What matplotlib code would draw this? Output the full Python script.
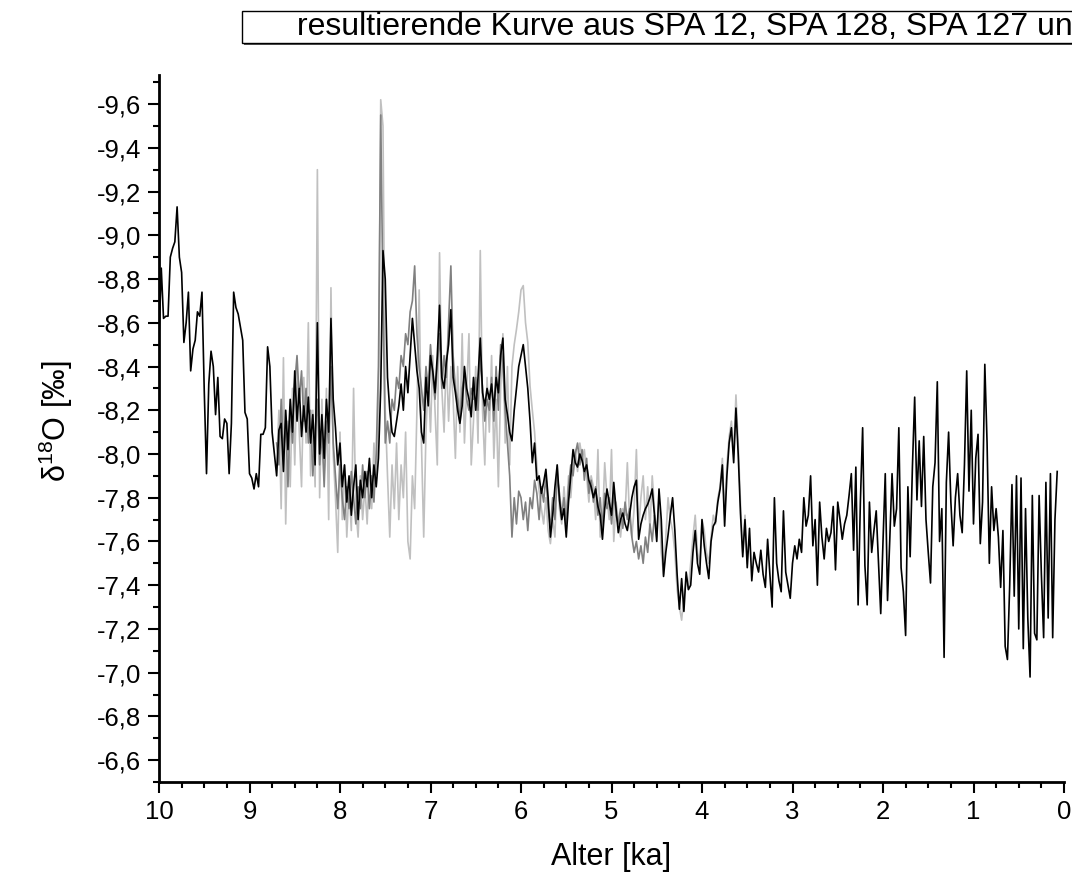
import numpy as np
import matplotlib
matplotlib.use("Agg")
import matplotlib.pyplot as plt
from matplotlib.patches import Rectangle
from matplotlib.ticker import MultipleLocator, FuncFormatter

plt.rcParams["font.family"] = ["Liberation Sans", "DejaVu Sans"]
plt.rcParams["mathtext.default"] = "regular"
plt.rcParams["axes.unicode_minus"] = False

AGE_STEP = 0.025

# resulting curve (black), 10.0 ka -> 0.075 ka
black_start = 10.0
black_d18o = [
    -8.54, -8.85, -8.62, -8.63, -8.63, -8.90, -8.94, -8.97, -9.13, -8.90, -8.83, -8.51, -8.60, -8.74, -8.38, -8.48, -8.52, -8.65, -8.63, -8.74,
    -8.29, -7.91, -8.32, -8.47, -8.40, -8.18, -8.35, -8.08, -8.07, -8.16, -8.14, -7.91, -8.14, -8.74, -8.67, -8.64, -8.58, -8.52, -8.19, -8.16,
    -7.91, -7.89, -7.84, -7.91, -7.85, -8.09, -8.09, -8.12, -8.49, -8.40, -8.10, -8.00, -7.90, -8.11, -8.14, -7.92, -8.20, -8.02, -8.25, -8.10,
    -8.38, -8.15, -8.30, -8.08, -8.22, -8.10, -8.26, -8.05, -8.18, -7.95, -8.60, -8.00, -8.18, -7.98, -8.25, -8.10, -8.62, -8.25, -8.12, -7.95,
    -8.05, -7.85, -7.95, -7.78, -7.90, -7.72, -7.85, -7.95, -7.70, -7.88, -7.80, -7.92, -7.85, -7.98, -7.80, -7.95, -7.85, -7.98, -8.30, -8.93,
    -8.80, -8.35, -8.20, -8.10, -8.08, -8.15, -8.22, -8.32, -8.20, -8.40, -8.28, -8.45, -8.62, -8.50, -8.38, -8.30, -8.10, -8.05, -8.35, -8.22,
    -8.45, -8.38, -8.28, -8.45, -8.68, -8.35, -8.30, -8.42, -8.50, -8.66, -8.35, -8.28, -8.20, -8.14, -8.22, -8.40, -8.30, -8.25, -8.17, -8.35,
    -8.20, -8.35, -8.53, -8.28, -8.22, -8.30, -8.25, -8.32, -8.20, -8.35, -8.28, -8.45, -8.53, -8.25, -8.18, -8.10, -8.06, -8.20, -8.30, -8.40,
    -8.45, -8.50, -8.40, -8.30, -8.15, -7.96, -8.05, -7.88, -7.90, -7.82, -7.87, -7.93, -7.80, -7.62, -7.72, -7.85, -7.95, -7.79, -7.70, -7.75,
    -7.62, -7.78, -7.90, -8.02, -7.96, -7.94, -8.00, -7.97, -7.92, -7.95, -7.88, -7.85, -7.80, -7.84, -7.76, -7.72, -7.61, -7.75, -7.84, -7.78,
    -7.72, -7.87, -7.75, -7.64, -7.70, -7.73, -7.68, -7.65, -7.72, -7.80, -7.85, -7.88, -7.61, -7.68, -7.72, -7.75, -7.77, -7.80, -7.84, -7.72,
    -7.60, -7.84, -7.70, -7.44, -7.55, -7.63, -7.72, -7.80, -7.65, -7.45, -7.29, -7.43, -7.28, -7.46, -7.38, -7.40, -7.55, -7.65, -7.50, -7.45,
    -7.70, -7.58, -7.50, -7.43, -7.60, -7.67, -7.69, -7.78, -7.84, -7.95, -7.67, -7.90, -8.05, -8.12, -7.96, -8.21, -8.00, -7.73, -7.53, -7.70,
    -7.48, -7.66, -7.42, -7.55, -7.50, -7.46, -7.56, -7.45, -7.39, -7.61, -7.45, -7.30, -7.80, -7.50, -7.42, -7.37, -7.74, -7.46, -7.40, -7.34,
    -7.50, -7.58, -7.52, -7.61, -7.55, -7.80, -7.67, -7.72, -7.90, -7.58, -7.70, -7.40, -7.78, -7.62, -7.52, -7.66, -7.60, -7.64, -7.76, -7.47,
    -7.78, -7.70, -7.61, -7.68, -7.72, -7.81, -7.91, -7.56, -7.94, -7.31, -7.78, -8.12, -7.49, -7.31, -7.78, -7.55, -7.65, -7.74, -7.50, -7.27,
    -7.60, -7.91, -7.33, -7.61, -7.91, -7.67, -7.75, -8.12, -7.48, -7.37, -7.17, -7.85, -7.53, -7.94, -8.26, -7.79, -8.06, -7.76, -8.08, -7.70,
    -7.55, -7.41, -7.85, -7.96, -8.33, -7.60, -7.75, -7.07, -7.87, -8.10, -7.78, -7.58, -7.80, -7.91, -7.72, -7.64, -7.95, -8.38, -7.83, -8.20,
    -7.68, -7.98, -8.09, -7.59, -7.78, -8.41, -8.05, -7.50, -7.85, -7.65, -7.75, -7.62, -7.39, -7.65, -7.12, -7.06, -7.40, -7.86, -7.35, -7.90,
    -7.20, -7.89, -7.11, -7.75, -7.25, -6.98, -7.81, -7.18, -7.15, -7.81, -7.45, -7.16, -7.87, -7.25, -7.91, -7.16, -7.70, -7.92,
]

# light grey record, 8.70 ka -> 3.50 ka
light_start = 8.70
light_d18o = [
    -7.95, -8.20, -7.75, -8.44, -7.68, -8.15, -7.85, -8.30, -7.95, -8.40, -8.10, -7.85, -8.35, -8.05, -8.60, -7.90, -8.20, -7.85, -9.30, -7.80,
    -8.25, -7.90, -8.30, -7.70, -8.76, -8.00, -7.80, -7.55, -8.10, -7.70, -7.95, -7.62, -7.85, -7.65, -8.30, -7.75, -7.62, -7.90, -7.70, -7.85,
    -7.68, -7.95, -7.75, -8.05, -7.85, -8.20, -9.62, -9.50, -8.20, -7.90, -7.62, -7.95, -7.75, -8.05, -7.70, -7.95, -7.80, -8.10, -7.60, -7.52,
    -7.90, -7.75, -8.20, -8.75, -8.05, -7.62, -8.10, -8.35, -8.10, -8.45, -8.20, -7.95, -8.92, -8.30, -8.10, -8.45, -8.15, -8.40, -8.25, -7.98,
    -8.40, -8.10, -8.55, -8.05, -8.30, -8.55, -7.95, -8.15, -8.40, -8.05, -8.93, -8.20, -7.95, -8.35, -8.10, -8.45, -7.98, -8.25, -7.85, -8.30,
    -8.55, -8.05, -8.40, -7.95, -8.40, -8.50, -8.57, -8.65, -8.75, -8.77, -8.60, -8.51, -8.31, -8.20, -8.10, -7.95, -7.83, -7.75, -7.68, -7.80,
    -7.65, -7.59, -7.70, -7.62, -7.95, -7.75, -7.68, -7.85, -7.70, -7.90, -7.80, -7.95, -8.02, -7.92, -8.05, -7.98, -8.02, -7.90, -7.78, -7.90,
    -7.85, -7.70, -8.02, -7.62, -7.68, -7.96, -7.80, -7.70, -8.02, -7.60, -7.78, -7.70, -7.62, -7.75, -7.72, -7.96, -7.70, -7.62, -7.75, -8.02,
    -7.65, -7.80, -7.90, -7.70, -7.85, -7.65, -7.90, -7.75, -7.62, -7.80, -7.55, -7.45, -7.62, -7.80, -7.70, -7.65, -7.55, -7.38, -7.30, -7.24,
    -7.35, -7.42, -7.38, -7.50, -7.62, -7.72, -7.55, -7.50, -7.70, -7.65, -7.55, -7.50, -7.62, -7.72, -7.68, -7.80, -7.85, -7.98, -7.72, -7.95,
    -8.08, -8.15, -8.00, -8.27, -8.05, -7.78, -7.55, -7.72, -7.50,
]

# dark grey record, 8.70 ka -> 4.50 ka
dark_start = 8.70
dark_d18o = [
    -8.05, -7.95, -8.25, -8.00, -8.15, -7.85, -8.20, -8.05, -8.32, -8.45, -8.25, -8.38, -8.15, -8.30, -8.05, -8.20, -7.90, -8.10, -8.25, -7.95,
    -8.10, -7.85, -8.15, -8.05, -8.40, -8.05, -7.90, -7.75, -7.95, -7.80, -7.70, -7.85, -7.75, -7.92, -7.80, -7.68, -7.85, -7.75, -7.95, -7.80,
    -7.92, -7.75, -7.90, -7.78, -8.00, -8.40, -9.55, -8.70, -8.05, -8.15, -8.05, -8.25, -8.20, -8.35, -8.30, -8.45, -8.40, -8.55, -8.50, -8.65,
    -8.70, -8.86, -8.55, -8.40, -8.30, -8.20, -8.40, -8.30, -8.50, -8.35, -8.25, -8.40, -8.55, -8.30, -8.45, -8.35, -8.60, -8.86, -8.45, -8.30,
    -8.25, -8.15, -8.30, -8.35, -8.25, -8.20, -8.30, -8.25, -8.35, -8.20, -8.45, -8.30, -8.15, -8.25, -8.20, -8.35, -8.15, -8.40, -8.20, -8.50,
    -8.40, -8.20, -8.05, -7.90, -7.62, -7.80, -7.68, -7.83, -7.80, -7.70, -7.78, -7.65, -7.80, -7.75, -7.88, -7.82, -7.70, -7.85, -7.78, -7.90,
    -7.75, -7.66, -7.80, -7.70, -7.90, -7.82, -7.72, -7.80, -7.68, -7.85, -7.95, -7.90, -8.00, -8.05, -7.95, -8.02, -7.88, -7.98, -7.82, -7.88,
    -7.78, -7.85, -7.72, -7.80, -7.66, -7.82, -7.75, -7.80, -7.68, -7.82, -7.72, -7.68, -7.75, -7.66, -7.78, -7.70, -7.75, -7.62, -7.55, -7.60,
    -7.52, -7.58, -7.50, -7.62, -7.55, -7.68, -7.60, -7.72, -7.65,
]

x_ticks = [10, 9, 8, 7, 6, 5, 4, 3, 2, 1, 0]
y_ticks = [-9.6, -9.4, -9.2, -9.0, -8.8, -8.6, -8.4, -8.2, -8.0, -7.8, -7.6, -7.4, -7.2, -7.0, -6.8, -6.6]
legend_text = "resultierende Kurve aus SPA 12, SPA 128, SPA 127 und"


def ages(start, values):
    return start - AGE_STEP * np.arange(len(values))


fig = plt.figure(figsize=(10.72, 8.86), dpi=100)
ax = fig.add_axes([159 / 1072, 104 / 886, 905 / 1072, 707 / 886])

ax.plot(ages(light_start, light_d18o), light_d18o, color="#c0c0c0", lw=1.2, zorder=1)
ax.plot(ages(dark_start, dark_d18o), dark_d18o, color="#808080", lw=1.2, zorder=2)
ax.plot(ages(black_start, black_d18o), black_d18o, color="black", lw=1.2, zorder=3)

ax.set_xlim(10, 0)
ax.set_ylim(-6.5, -9.733)

ax.set_xticks(x_ticks)
ax.set_yticks(y_ticks)
ax.xaxis.set_minor_locator(MultipleLocator(0.25))
ax.yaxis.set_minor_locator(MultipleLocator(0.1))
ax.yaxis.set_major_formatter(FuncFormatter(lambda v, p: f"{v:.1f}".replace(".", ",")))
ax.xaxis.set_major_formatter(FuncFormatter(lambda v, p: f"{v:.0f}"))

for side in ("top", "right"):
    ax.spines[side].set_visible(False)
for side in ("left", "bottom"):
    ax.spines[side].set_linewidth(2.0)

ax.tick_params(which="major", direction="out", length=8, width=1.5, labelsize=18.5, pad=5)
ax.tick_params(which="minor", direction="out", length=4.5, width=1.5)

ax.set_xlabel("Alter [ka]", fontsize=22)
ax.set_ylabel("δ$^{18}$O [‰]", fontsize=22)
ax.xaxis.set_label_coords(0.5, -0.085)
ax.yaxis.set_label_coords(-0.093, 0.51)

# legend box (runs off the right edge like in the original)
shadow = Rectangle((244 / 1072, 1 - 45 / 886), 1.0, 33 / 886, transform=fig.transFigure,
                   facecolor="#555555", edgecolor="none", zorder=5)
box = Rectangle((242 / 1072, 1 - 43 / 886), 1.0, 32 / 886, transform=fig.transFigure,
                facecolor="white", edgecolor="black", lw=1.0, zorder=6)
fig.patches.extend([shadow, box])
fig.text(297 / 1072, 1 - 27 / 886, legend_text, fontsize=23, ha="left", va="center", zorder=7)

fig.savefig("out.png", dpi=100)
